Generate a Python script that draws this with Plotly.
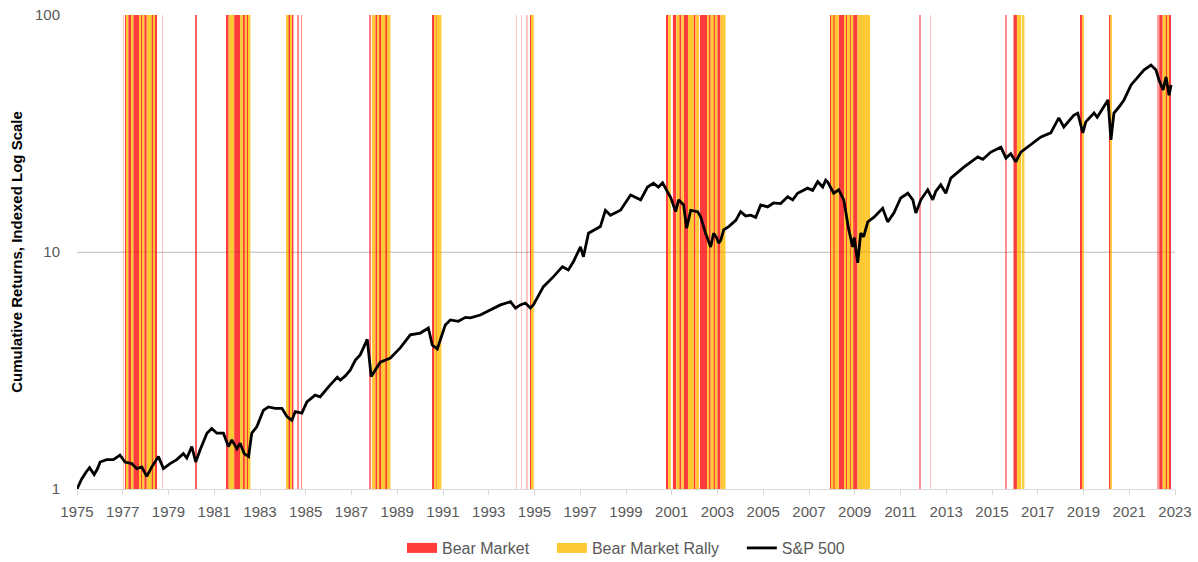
import numpy as np
import plotly.graph_objects as go

# Bear market / bear market rally regimes, as (start, end) in decimal years
bear_periods = [
    (1977.03, 1977.045), (1977.10, 1977.17), (1977.24, 1977.39), (1977.46, 1977.73),
    (1977.79, 1977.87), (1977.94, 1978.05), (1978.27, 1978.34), (1978.41, 1978.46),
    (1978.72, 1978.73), (1980.17, 1980.205),
    (1981.55, 1981.63), (1981.87, 1982.13), (1982.25, 1982.34), (1982.43, 1982.51),
    (1984.25, 1984.32), (1984.39, 1984.46), (1984.64, 1984.665), (1984.81, 1984.835),
    (1987.78, 1987.81), (1988.04, 1988.13), (1988.21, 1988.29), (1988.48, 1988.55),
    (1990.52, 1990.61), (1990.66, 1990.71),
    (1994.20, 1994.21), (1994.41, 1994.42), (1994.67, 1994.68), (1994.82, 1994.89),
    (2000.77, 2000.84), (2001.05, 2001.20), (2001.34, 2001.42), (2001.53, 2001.71),
    (2001.97, 2002.04), (2002.23, 2002.55), (2002.62, 2002.70), (2002.84, 2002.89),
    (2002.99, 2003.13),
    (2007.95, 2008.00), (2008.07, 2008.12), (2008.30, 2008.53), (2008.60, 2008.66),
    (2008.80, 2008.86), (2008.93, 2009.12),
    (2011.84, 2011.865), (2012.32, 2012.33),
    (2015.60, 2015.625), (2015.94, 2016.09),
    (2018.89, 2018.96), (2020.14, 2020.20),
    (2022.25, 2022.27), (2022.31, 2022.46), (2022.60, 2022.67), (2022.74, 2022.79),
]

rally_periods = [
    (1977.17, 1977.24), (1977.39, 1977.46), (1977.73, 1977.79), (1977.87, 1977.94),
    (1978.05, 1978.27), (1978.34, 1978.41),
    (1981.63, 1981.87), (1982.13, 1982.25), (1982.34, 1982.43), (1982.51, 1982.58),
    (1984.17, 1984.25), (1984.32, 1984.39),
    (1987.89, 1988.04), (1988.13, 1988.21), (1988.29, 1988.48), (1988.55, 1988.70),
    (1990.61, 1990.66), (1990.71, 1990.93),
    (1994.89, 1994.97),
    (2000.84, 2000.96), (2001.20, 2001.34), (2001.42, 2001.53), (2001.71, 2001.97),
    (2002.04, 2002.19), (2002.55, 2002.62), (2002.70, 2002.84), (2002.89, 2002.99),
    (2003.13, 2003.35),
    (2008.00, 2008.07), (2008.12, 2008.30), (2008.53, 2008.60), (2008.66, 2008.80),
    (2008.86, 2008.93), (2009.12, 2009.67),
    (2016.09, 2016.28), (2016.33, 2016.37), (2016.40, 2016.42),
    (2018.96, 2019.00), (2020.20, 2020.24),
    (2022.46, 2022.60), (2022.67, 2022.74),
]

# S&P 500 cumulative return, indexed to 1 at the start of 1975
sp_years = [
    1975.00, 1975.20, 1975.40, 1975.55, 1975.75, 1975.90,
    1976.01, 1976.30, 1976.59, 1976.88, 1977.10, 1977.39, 1977.61, 1977.83, 1978.05, 1978.27,
    1978.56, 1978.78, 1979.07, 1979.36, 1979.65, 1979.80, 1980.02, 1980.19, 1980.38, 1980.68,
    1980.89, 1981.11, 1981.40, 1981.62, 1981.77, 1981.99, 1982.13, 1982.31, 1982.50, 1982.64,
    1982.86, 1983.15, 1983.37, 1983.66, 1983.96, 1984.18, 1984.39, 1984.54, 1984.83, 1985.05,
    1985.41, 1985.63, 1986.07, 1986.38, 1986.51, 1986.73, 1986.95, 1987.17, 1987.38, 1987.69,
    1987.86, 1988.26, 1988.70, 1989.13, 1989.57, 1990.01, 1990.36, 1990.53, 1990.75, 1991.10,
    1991.32, 1991.67, 1991.98, 1992.20, 1992.63, 1993.07, 1993.51, 1993.95, 1994.17, 1994.38,
    1994.60, 1994.82, 1994.95, 1995.39, 1995.83, 1996.22, 1996.48, 1996.70, 1997.01, 1997.14,
    1997.36, 1997.88, 1998.10, 1998.32, 1998.76, 1999.20, 1999.64, 1999.94, 2000.20, 2000.42,
    2000.60, 2000.82, 2000.95, 2001.17, 2001.30, 2001.52, 2001.65, 2001.83, 2002.13, 2002.26,
    2002.48, 2002.70, 2002.83, 2002.96, 2003.05, 2003.14, 2003.27, 2003.49, 2003.80, 2004.01,
    2004.23, 2004.45, 2004.67, 2004.89, 2005.19, 2005.45, 2005.76, 2006.07, 2006.29, 2006.50,
    2006.94, 2007.16, 2007.38, 2007.60, 2007.73, 2007.82, 2008.08, 2008.30, 2008.52, 2008.74,
    2008.91, 2008.98, 2009.13, 2009.26, 2009.39, 2009.57, 2009.83, 2010.22, 2010.44, 2010.71,
    2011.01, 2011.32, 2011.54, 2011.67, 2011.89, 2012.19, 2012.41, 2012.54, 2012.76, 2012.98,
    2013.20, 2013.77, 2014.38, 2014.60, 2014.95, 2015.39, 2015.61, 2015.82, 2016.04, 2016.26,
    2016.70, 2017.14, 2017.57, 2017.92, 2018.14, 2018.58, 2018.75, 2018.97, 2019.10, 2019.46,
    2019.60, 2020.07, 2020.20, 2020.33, 2020.55, 2020.77, 2021.08, 2021.38, 2021.64, 2021.95,
    2022.17, 2022.30, 2022.48, 2022.61, 2022.74, 2022.83,
]
sp_values = [
    1.00, 1.10, 1.18, 1.23, 1.15, 1.22,
    1.30, 1.33, 1.33, 1.39, 1.30, 1.28, 1.22, 1.24, 1.13, 1.24,
    1.37, 1.22, 1.28, 1.33, 1.41, 1.35, 1.51, 1.30, 1.46, 1.72,
    1.80, 1.72, 1.72, 1.51, 1.61, 1.48, 1.56, 1.41, 1.37, 1.72,
    1.83, 2.15, 2.22, 2.19, 2.19, 2.02, 1.95, 2.12, 2.09, 2.33,
    2.49, 2.45, 2.75, 2.96, 2.88, 3.00, 3.18, 3.50, 3.68, 4.28,
    2.98, 3.43, 3.57, 3.94, 4.47, 4.55, 4.78, 4.05, 3.90, 4.92,
    5.17, 5.10, 5.30, 5.27, 5.42, 5.69, 5.98, 6.17, 5.80, 5.98,
    6.09, 5.80, 5.98, 7.14, 7.87, 8.67, 8.40, 9.10, 10.5, 9.55,
    12.0, 12.8, 15.0, 14.3, 15.0, 17.4, 16.6, 18.8, 19.5, 18.8,
    19.6, 17.9, 17.0, 14.8, 16.6, 15.8, 12.6, 15.0, 14.8, 14.1,
    12.0, 10.5, 12.0, 11.5, 10.9, 11.2, 12.4, 12.8, 13.6, 14.8,
    14.2, 14.3, 14.0, 15.8, 15.5, 16.1, 16.0, 17.1, 16.6, 17.7,
    18.6, 18.2, 19.8, 18.8, 20.1, 19.7, 17.7, 18.3, 16.6, 12.4,
    10.5, 11.5, 9.00, 12.0, 11.6, 13.4, 14.0, 15.3, 13.4, 14.6,
    16.9, 17.7, 16.6, 14.6, 16.6, 18.3, 16.6, 18.0, 19.2, 17.7,
    20.5, 22.8, 25.2, 24.6, 26.4, 27.7, 24.9, 26.0, 24.0, 26.4,
    28.3, 30.6, 31.8, 36.8, 33.7, 37.8, 38.5, 31.8, 35.4, 38.6,
    37.0, 43.8, 29.7, 38.6, 40.9, 43.8, 50.7, 54.8, 58.6, 61.5,
    58.6, 53.2, 48.3, 54.8, 45.9, 50.7,
]

y_ticks = [1, 10, 100]
x_start, x_end = 1975, 2023

RED = "#FF3B3B"
YELLOW = "#FFC936"
GRID = "#D9D9D9"
TEXT = "#595959"
FONT = "Liberation Sans"
PX_PER_YEAR = (1198 - 77 - 23) / (x_end - x_start)


def band_trace(periods, color, name):
    starts = np.array([a for a, _ in periods])
    ends = np.array([b for _, b in periods])
    widths = ends - starts
    # very short regimes cover less than a pixel, so they show up paler
    coverage = np.clip(widths * PX_PER_YEAR, 0.3, 1.0)
    return go.Bar(
        x=(starts + ends) / 2, width=widths,
        base=[y_ticks[0]] * len(periods),
        y=[y_ticks[-1] - y_ticks[0]] * len(periods),
        marker=dict(color=color, opacity=coverage, line=dict(width=0)),
        name=name, showlegend=False, hoverinfo="skip",
    )


fig = go.Figure()
fig.add_trace(band_trace(bear_periods, RED, "Bear Market"))
fig.add_trace(band_trace(rally_periods, YELLOW, "Bear Market Rally"))

# legend keys drawn as thick line swatches
pad = "\u00a0" * 4
fig.add_trace(go.Scatter(x=[None], y=[None], mode="lines", name="Bear Market" + pad,
                         line=dict(color=RED, width=10)))
fig.add_trace(go.Scatter(x=[None], y=[None], mode="lines", name="Bear Market Rally" + pad,
                         line=dict(color=YELLOW, width=10)))
fig.add_trace(go.Scatter(x=sp_years, y=sp_values, mode="lines", name="S&P 500",
                         line=dict(color="black", width=2.8)))

# gridline at 10 sits on top of the shaded regimes
fig.add_shape(type="line", xref="paper", yref="y", x0=0, x1=1, y0=10, y1=10,
              line=dict(color="rgba(0,0,0,0.13)", width=1), layer="above")

fig.update_layout(
    width=1198, height=562,
    margin=dict(l=77, r=23, t=15, b=73, autoexpand=False),
    paper_bgcolor="white", plot_bgcolor="white",
    font=dict(family=FONT, color=TEXT, size=15),
    barmode="overlay", bargap=0.2,
    showlegend=True,
    legend=dict(orientation="h", x=0.5, xanchor="center", y=-0.1245, yanchor="middle",
                font=dict(size=16, color=TEXT), itemwidth=30),
)
fig.update_xaxes(
    range=[x_start, x_end], tick0=1975, dtick=2, tickformat="d",
    showgrid=False, zeroline=False, automargin=False,
    showline=True, linecolor=GRID, linewidth=1,
    ticks="outside", ticklen=5, tickcolor=GRID, ticklabelstandoff=4,
    tickfont=dict(family=FONT, size=15, color=TEXT),
)
fig.update_yaxes(
    type="log", range=[0, 2], tickvals=y_ticks, ticktext=[str(v) for v in y_ticks],
    showgrid=True, gridcolor=GRID, gridwidth=1, zeroline=False, showline=False,
    ticks="", ticklabelstandoff=16, automargin=False,
    tickfont=dict(family=FONT, size=15, color=TEXT),
    title=dict(text="<b>Cumulative Returns, Indexed Log Scale</b>", standoff=8,
               font=dict(family=FONT, size=15, color="black")),
)

fig.write_html("out.html")
